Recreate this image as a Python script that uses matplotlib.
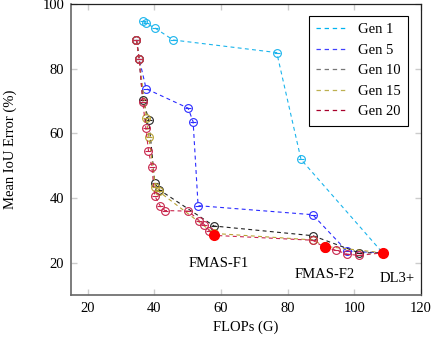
import matplotlib
matplotlib.use("Agg")
import matplotlib.pyplot as plt
from matplotlib.lines import Line2D

plt.rcParams['font.family'] = ['Liberation Serif', 'DejaVu Serif']
plt.rcParams['font.size'] = 10.5

# data
gen1_x = [36.5, 37.4, 40.3, 45.6, 76.7, 84.0, 108.5]
gen1_y = [94.9, 94.1, 92.5, 88.9, 85.0, 51.9, 23.0]

gen5_x = [34.6, 35.4, 37.5, 50.1, 51.6, 53.1, 87.5, 97.8, 108.5]
gen5_y = [88.9, 83.1, 73.8, 67.8, 63.6, 37.6, 34.8, 23.5, 23.0]

gen10_x = [34.6, 35.4, 36.5, 38.3, 40.1, 41.3, 57.9, 87.5, 101.4, 108.5]
gen10_y = [88.9, 83.1, 70.4, 64.2, 44.6, 42.6, 31.3, 28.3, 23.0, 23.0]

gen15_x = [34.6, 35.4, 37.6, 38.3, 40.3, 41.3, 57.9, 87.5, 91.2, 108.5]
gen15_y = [88.9, 83.1, 64.6, 59.0, 43.5, 42.0, 29.0, 27.0, 25.0, 23.0]

gen20_x = [34.6, 35.4, 36.5, 37.4, 38.2, 39.2, 40.1, 41.8, 43.1, 50.2, 53.4,
           55.0, 56.4, 57.9, 87.5, 91.2, 94.6, 97.8, 101.4, 108.5]
gen20_y = [88.9, 83.1, 69.6, 61.8, 54.6, 49.6, 40.6, 37.4, 36.1, 35.9, 33.0,
           31.7, 29.9, 28.4, 26.9, 24.6, 23.8, 22.6, 22.2, 23.0]

sel_x = [57.9, 91.2, 108.5]
sel_y = [28.6, 24.7, 23.0]
sel_names = ["FMAS-F1", "FMAS-F2", "DL3+"]
name_x = [59.3, 91.0, 112.8]
name_y = [19.8, 16.3, 15.2]

labels = ["Gen 1", "Gen 5", "Gen 10", "Gen 15", "Gen 20"]
xs_all = [gen1_x, gen5_x, gen10_x, gen15_x, gen20_x]
ys_all = [gen1_y, gen5_y, gen10_y, gen15_y, gen20_y]
colors = ["#1ab4ec", "#2b2bff", "#222222", "#b8a233", "#c8254c"]
leg_colors = ["#00b4f0", "#4040ff", "#777777", "#bdb050", "#a8002c"]

fig = plt.figure(figsize=(4.34, 3.44), dpi=100)
ax = fig.add_axes([0.164, 0.143, 0.806, 0.845])

for xs, ys, c in zip(xs_all, ys_all, colors):
    ax.plot(xs, ys, color=c, lw=0.8, dashes=(3.5, 3))
    ax.plot(xs, ys, ls="none", marker="o", ms=5.6, mfc="none", mec=c, mew=0.8)
    ax.plot(xs, ys, ls="none", marker="_", ms=4.5, mec=c, mew=0.8)

ax.plot(sel_x, sel_y, ls="none", marker="o", ms=7, color="#ff0000")
for t, tx, ty in zip(sel_names, name_x, name_y):
    ax.text(tx, ty, t, ha="center", va="center")

ax.set_xlim(15, 120)
ax.set_ylim(10, 100)
ax.set_xticks([20, 40, 60, 80, 100, 120])
ax.set_yticks([20, 40, 60, 80, 100])
ax.tick_params(direction="in", top=True, right=True, length=4, color="#cccccc",
               width=1, pad=5)
ax.set_xlabel("FLOPs (G)", labelpad=4)
ax.set_ylabel("Mean IoU Error (%)", labelpad=18)
for s in ["left", "bottom"]:
    ax.spines[s].set_color("#666666")
    ax.spines[s].set_linewidth(1.2)
for s in ["top", "right"]:
    ax.spines[s].set_color("#222222")
    ax.spines[s].set_linewidth(0.9)

handles = [Line2D([], [], color=c, lw=0.9, dashes=(3.5, 3)) for c in leg_colors]
leg = ax.legend(handles, labels, loc="upper right", fancybox=False,
                edgecolor="black", framealpha=1, handlelength=2.0,
                borderpad=0.5, labelspacing=0.5, handletextpad=0.9,
                bbox_to_anchor=(0.985, 0.985))
leg.get_frame().set_linewidth(0.8)

fig.savefig("out.png", dpi=100)
